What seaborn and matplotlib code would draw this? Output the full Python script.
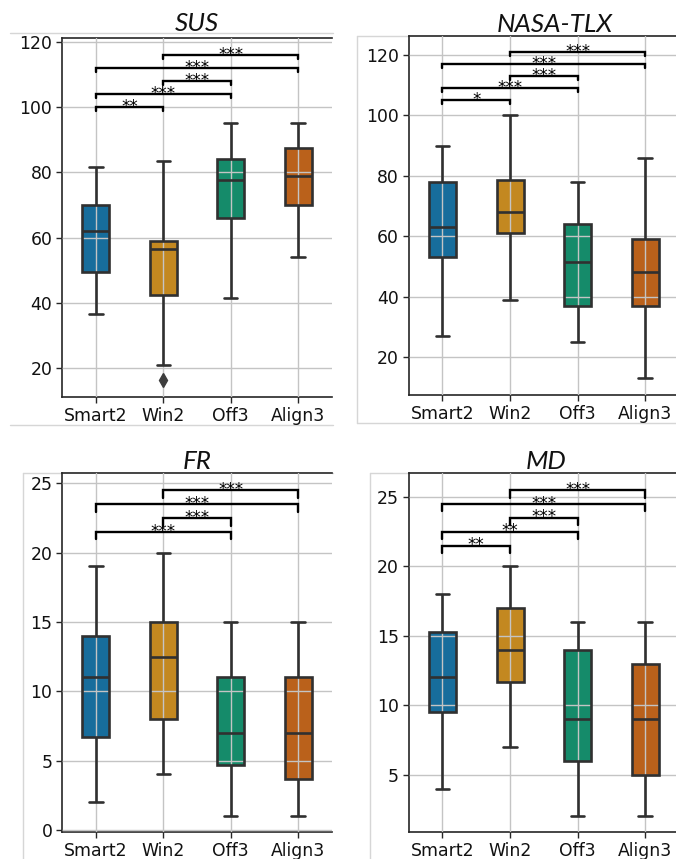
import matplotlib
matplotlib.use("Agg")
import matplotlib.pyplot as plt
from matplotlib.lines import Line2D
from matplotlib.patches import PathPatch
import seaborn as sns
import pandas as pd

# ---------------- data ----------------
groups = ["Smart2", "Win2", "Off3", "Align3"]

# each list: min whisker, Q1, median, Q3, max whisker (Win2/SUS also has an outlier)
sus_smart2 = [36.5, 49.5, 62, 70, 81.5]
sus_win2 = [16.3, 21, 42.5, 50, 56.5, 57.5, 59, 75, 83.5]
sus_off3 = [41.5, 66, 77.5, 84, 95]
sus_align3 = [54, 70, 79, 87.5, 95]

nasa_smart2 = [27, 53, 63, 78, 90]
nasa_win2 = [39, 61, 68, 78.5, 100]
nasa_off3 = [25, 37, 51.5, 64, 78]
nasa_align3 = [13, 37, 48, 59, 86]

fr_smart2 = [2, 6.7, 11, 14, 19]
fr_win2 = [4, 8, 12.5, 15, 20]
fr_off3 = [1, 4.7, 7, 11, 15]
fr_align3 = [1, 3.7, 7, 11, 15]

md_smart2 = [4, 9.5, 12, 15.3, 18]
md_win2 = [7, 11.7, 14, 17, 20]
md_off3 = [2, 6, 9, 14, 16]
md_align3 = [2, 5, 9, 13, 16]

# significance brackets: (group i, group j, bracket height, label)
sus_sig = [(0, 1, 100, "**"), (0, 2, 104, "***"), (1, 2, 108, "***"),
           (0, 3, 112, "***"), (1, 3, 116, "***")]
nasa_sig = [(0, 1, 105, "*"), (0, 2, 109, "***"), (1, 2, 113, "***"),
            (0, 3, 117, "***"), (1, 3, 121, "***")]
fr_sig = [(0, 2, 21.5, "***"), (1, 2, 22.5, "***"), (0, 3, 23.5, "***"),
          (1, 3, 24.5, "***")]
md_sig = [(0, 1, 21.5, "**"), (0, 2, 22.5, "**"), (1, 2, 23.5, "***"),
          (0, 3, 24.5, "***"), (1, 3, 25.5, "***")]

titles = ["SUS", "NASA-TLX", "FR", "MD"]
sus_ticks = [20, 40, 60, 80, 100, 120]
nasa_ticks = [20, 40, 60, 80, 100, 120]
fr_ticks = [0, 5, 10, 15, 20, 25]
md_ticks = [5, 10, 15, 20, 25]

# ---------------- style ----------------
sns.set_theme(style="ticks")
plt.rcParams["font.family"] = ["DejaVu Sans"]

W, H = 676, 859
fig = plt.figure(figsize=(W / 100, H / 100), dpi=100)


def frac_rect(left, top, right, bottom):
    return [left / W, 1 - bottom / H, (right - left) / W, (bottom - top) / H]


panels = [
    dict(data=[sus_smart2, sus_win2, sus_off3, sus_align3], sig=sus_sig,
         ticks=sus_ticks, ylim=(11.1, 121.2), rect=frac_rect(62, 38, 332, 397),
         tx=0.5, pad=5.0, tick_h=1.2),
    dict(data=[nasa_smart2, nasa_win2, nasa_off3, nasa_align3], sig=nasa_sig,
         ticks=nasa_ticks, ylim=(7.4, 126.3), rect=frac_rect(408.7, 36, 679, 395),
         tx=0.539, pad=2.4, tick_h=1.3),
    dict(data=[fr_smart2, fr_win2, fr_off3, fr_align3], sig=fr_sig,
         ticks=fr_ticks, ylim=(-0.17, 25.72), rect=frac_rect(62, 473.3, 332, 832.3),
         tx=0.5, pad=1.6, tick_h=0.55),
    dict(data=[md_smart2, md_win2, md_off3, md_align3], sig=md_sig,
         ticks=md_ticks, ylim=(0.85, 26.7), rect=frac_rect(408.7, 473.3, 679, 832.3),
         tx=0.508, pad=1.6, tick_h=0.55),
]

dark = "#3d3d3d"
for p, title in zip(panels, titles):
    ax = fig.add_axes(p["rect"])
    rows = []
    for g, vals in zip(groups, p["data"]):
        for v in vals:
            rows.append((g, v))
    df = pd.DataFrame(rows, columns=["group", "value"])
    sns.boxplot(data=df, x="group", y="value", hue="group", order=groups,
                hue_order=groups, palette="colorblind", legend=False,
                width=0.4, linewidth=1.9, ax=ax,
                flierprops=dict(marker="d", markersize=7,
                                markerfacecolor=dark, markeredgecolor=dark))
    # box faces under the grid, outlines / whiskers / medians above it
    for line in ax.lines:
        line.set_zorder(3)
    for patch in list(ax.patches):
        patch.set_zorder(1)
        edge = PathPatch(patch.get_path(), transform=patch.get_transform(),
                         facecolor="none", edgecolor=patch.get_edgecolor(),
                         linewidth=patch.get_linewidth(), zorder=3)
        ax.add_patch(edge)
        patch.set_edgecolor("none")

    ax.set_xlim(-0.5, 3.5)
    ax.set_ylim(*p["ylim"])
    ax.set_yticks(p["ticks"])
    ax.set_xlabel("")
    ax.set_ylabel("")
    ax.grid(True, color="#c4c4c4", linewidth=1.0)
    ax.set_axisbelow(False)
    ax.tick_params(labelsize=12.4, length=4, width=1.0, colors="#262626",
                   labelcolor="#111111", pad=3)
    for s in ["left", "bottom", "top"]:
        ax.spines[s].set_color("#262626")
        ax.spines[s].set_linewidth(1.2)
    ax.spines["right"].set_visible(False)
    ax.set_title(title, fontsize=18.7, style="italic", family=["Lato", "DejaVu Sans"],
                 x=p["tx"], pad=p["pad"], color="#111111")

    for i, j, y, lab in p["sig"]:
        h = p["tick_h"]
        ax.plot([i, i, j, j], [y - h, y, y, y - h], color="black", lw=1.7,
                solid_joinstyle="miter", zorder=5)
        ax.annotate(lab, xy=((i + j) / 2, y), xytext=(0, -3.4),
                    textcoords="offset points", ha="center", va="baseline",
                    fontsize=12, color="black", zorder=6)

# light frames of the original screenshots
frame_c = "#d6d6d6"
frame_lines = [
    ((10, 333), (33, 33)), ((10, 333), (425, 425)),
    ((357, 357), (36, 423)), ((357, 676), (36, 36)), ((357, 676), (423, 423)),
    ((23, 23), (473, 859)), ((23, 333), (473, 473)),
    ((370, 370), (473, 859)), ((370, 676), (473, 473)),
]
for xs, ys in frame_lines:
    fig.add_artist(Line2D([x / W for x in xs], [1 - y / H for y in ys],
                          color=frame_c, lw=1.0, zorder=0))

fig.savefig("out.png", dpi=100)
